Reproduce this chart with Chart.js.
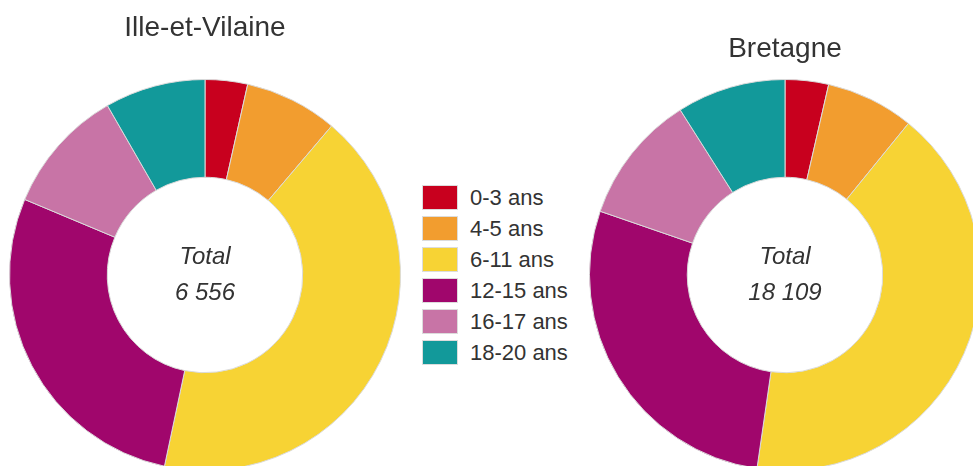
<!DOCTYPE html>
<html><head><meta charset="utf-8">
<script src="https://cdn.jsdelivr.net/npm/chart.js@4/dist/chart.umd.min.js"></script>
<style>
html,body{margin:0;padding:0;width:973px;height:466px;overflow:hidden;background:#fff;font-family:"Liberation Sans",Arial,sans-serif;}
canvas{position:absolute;top:0;}
#legend{position:absolute;left:422px;top:185px;}
.row{position:relative;height:31px;}
.sw{position:absolute;left:0;top:0;width:34px;height:23px;border:1px solid #dcdcdc;}
.lb{position:absolute;left:48px;top:-1px;font-size:22px;line-height:27px;color:#333;white-space:nowrap;}
</style></head>
<body>
<canvas id="c1" width="392" height="471" style="left:9px"></canvas>
<canvas id="c2" width="392" height="471" style="left:589px"></canvas>
<div id="legend"></div>
<script>
const categories = ["0-3 ans", "4-5 ans", "6-11 ans", "12-15 ans", "16-17 ans", "18-20 ans"];
const colors = ["#C8001E", "#F29D2F", "#F7D334", "#A0066C", "#C874A6", "#12999A"];
const illeEtVilaine = [230, 505, 2761, 1835, 680, 545];
const bretagne = [650, 1320, 7499, 5070, 1940, 1630];
const titles = ["Ille-et-Vilaine", "Bretagne"];

function fmt(n){ return String(n).replace(/\B(?=(\d{3})+(?!\d))/g, " "); }

const centerText = {
  id: 'centerText',
  afterDraw(chart){
    const arc = chart.getDatasetMeta(0).data[0];
    if(!arc) return;
    const total = chart.data.datasets[0].data.reduce((a,b)=>a+b,0);
    const ctx = chart.ctx;
    ctx.save();
    ctx.fillStyle = '#333';
    ctx.textAlign = 'center';
    ctx.textBaseline = 'middle';
    ctx.font = 'italic 24px "Liberation Sans", Arial, sans-serif';
    ctx.fillText('Total', arc.x, arc.y - 18);
    ctx.fillText(fmt(total), arc.x, arc.y + 18);
    ctx.restore();
  }
};

function makeChart(id, values, title, padTop, padBottom){
  return new Chart(document.getElementById(id), {
    type: 'doughnut',
    data: {
      labels: categories,
      datasets: [{
        data: values,
        backgroundColor: colors,
        borderColor: '#dadada',
        borderWidth: 1,
        hoverOffset: 0
      }]
    },
    options: {
      responsive: false,
      animation: false,
      cutout: '50%',
      layout: { padding: 0 },
      events: [],
      plugins: {
        legend: { display: false },
        tooltip: { enabled: false },
        title: {
          display: true,
          text: title,
          color: '#333',
          font: { family: '"Liberation Sans", Arial, sans-serif', size: 28, weight: 'normal', lineHeight: 1.2 },
          padding: { top: padTop, bottom: padBottom }
        }
      }
    },
    plugins: [centerText]
  });
}

makeChart('c1', illeEtVilaine, titles[0], 11.2, 34.2);
makeChart('c2', bretagne, titles[1], 32.7, 12.7);

const leg = document.getElementById('legend');
categories.forEach((c,i)=>{
  const r = document.createElement('div'); r.className='row';
  const s = document.createElement('div'); s.className='sw'; s.style.background = colors[i];
  const t = document.createElement('div'); t.className='lb'; t.textContent = c;
  r.appendChild(s); r.appendChild(t); leg.appendChild(r);
});
</script>
</body></html>
